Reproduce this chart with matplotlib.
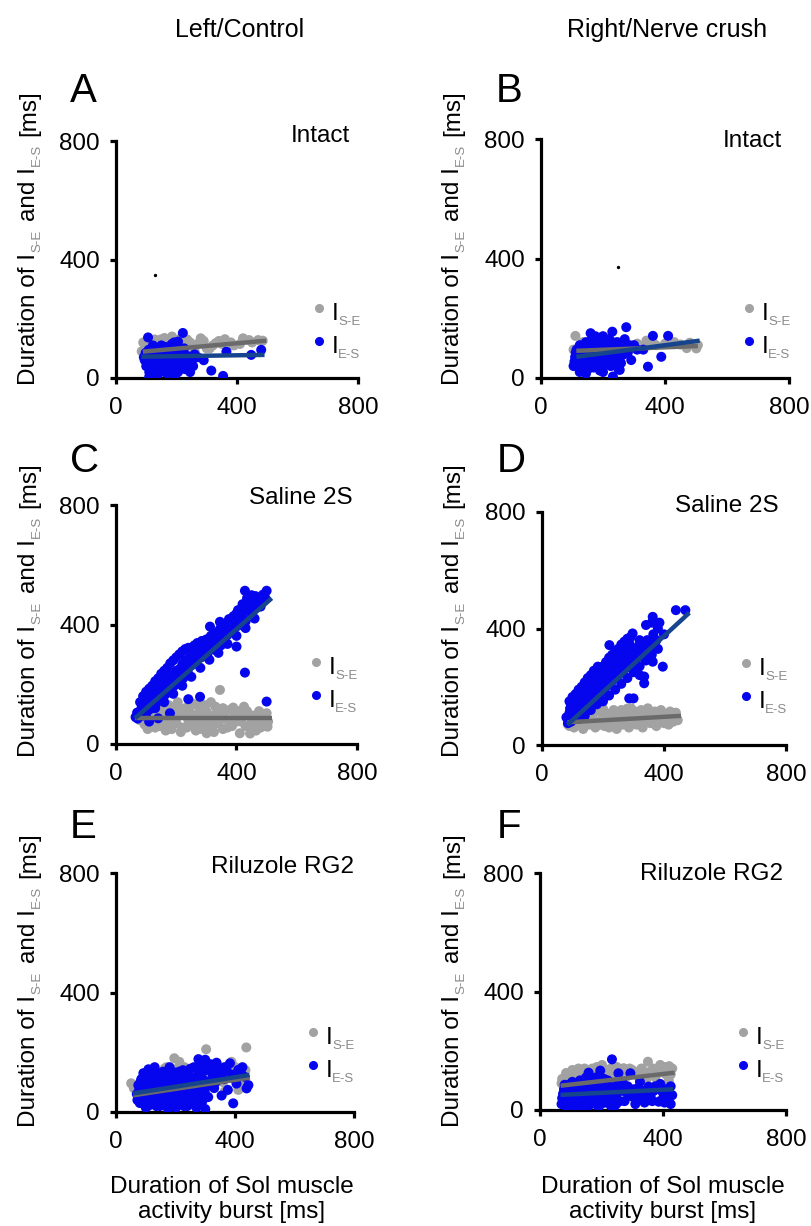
import numpy as np
import matplotlib
matplotlib.use("Agg")
import matplotlib.pyplot as plt
from matplotlib.transforms import IdentityTransform

plt.rcParams['font.family'] = ['Liberation Sans', 'DejaVu Sans']

W, H, DPI = 812, 1226, 100

# --- data: (Sol burst duration, interval duration) in ms ---
a_se = [(85, 90), (95, 100), (100, 110), (110, 95), (120, 120), (125, 105), (135, 115), (140, 125),
        (150, 100), (160, 135), (165, 110), (175, 120), (185, 140), (190, 105), (200, 128), (210, 115),
        (220, 95), (235, 130), (245, 120), (260, 105), (280, 134), (300, 100), (330, 118), (360, 131),
        (390, 110), (420, 134), (450, 120), (470, 128), (485, 126), (100, 80), (115, 75), (130, 85),
        (145, 95), (160, 70), (180, 88), (200, 78), (230, 110), (260, 90), (310, 100), (350, 115),
        (90, 120), (105, 125), (118, 100), (128, 130), (138, 105), (148, 130), (158, 100), (168, 125),
        (178, 110), (195, 120), (215, 135), (225, 120), (240, 110), (270, 115), (290, 125), (320, 110),
        (340, 125), (380, 120), (410, 115), (440, 128)]
a_es = [(95, 60), (100, 40), (105, 75), (110, 20), (115, 50), (120, 85), (125, 30), (130, 65),
        (135, 10), (140, 45), (145, 80), (150, 25), (155, 55), (160, 70), (170, 15), (175, 40),
        (180, 90), (190, 30), (200, 60), (205, 20), (210, 75), (220, 45), (225, 100), (240, 38),
        (250, 55), (260, 80), (270, 70), (290, 60), (315, 25), (354, 7), (365, 89), (447, 78),
        (480, 95), (106, 137), (221, 152), (205, 123), (130, 100), (150, 110), (165, 95), (185, 115),
        (110, 5), (140, 15), (170, 50), (195, 8), (230, 65), (120, 95), (160, 105),
        (92, 70), (98, 85), (103, 55), (108, 95), (112, 35), (118, 65), (122, 110), (128, 45),
        (132, 80), (138, 25), (142, 100), (148, 60), (152, 35), (158, 90), (162, 20), (168, 75),
        (172, 105), (178, 55), (182, 30), (188, 80), (192, 120), (198, 45), (202, 95), (208, 35),
        (212, 60), (218, 85), (228, 30), (235, 75), (245, 20), (255, 40)]

b_se = [(111, 141), (120, 100), (130, 95), (140, 110), (150, 120), (160, 90), (170, 105), (180, 115),
        (190, 95), (200, 125), (215, 100), (230, 110), (250, 120), (270, 105), (290, 100), (310, 115),
        (340, 125), (370, 110), (400, 115), (430, 120), (480, 118), (501, 99), (506, 110), (150, 80),
        (200, 85), (250, 95), (105, 95), (135, 120), (165, 125), (195, 110), (225, 125), (260, 115),
        (320, 105), (360, 120), (450, 112), (470, 100)]
b_es = [(105, 40), (110, 70), (115, 95), (120, 55), (125, 110), (130, 30), (135, 85), (140, 65),
        (145, 120), (150, 45), (155, 100), (160, 75), (165, 130), (170, 35), (175, 90), (180, 60),
        (185, 115), (190, 25), (195, 80), (200, 140), (205, 50), (210, 105), (215, 70), (220, 130),
        (225, 40), (230, 155), (235, 90), (240, 60), (245, 120), (250, 30), (254, 27), (260, 75),
        (265, 100), (275, 170), (280, 85), (291, 60), (300, 110), (310, 95), (345, 38), (361, 141),
        (388, 71), (410, 141), (125, 20), (145, 15), (175, 140), (200, 20), (232, 5), (270, 130),
        (330, 95), (160, 150),
        (108, 55), (112, 85), (118, 40), (122, 75), (128, 100), (132, 60), (138, 45), (142, 95),
        (148, 80), (152, 30), (158, 110), (162, 55), (168, 95), (172, 125), (178, 75), (182, 40),
        (188, 100), (192, 135), (198, 65), (202, 110), (208, 85), (212, 45), (218, 95), (222, 60),
        (228, 120), (238, 75), (248, 105), (258, 50), (268, 80), (285, 110)]

c_se = [(80, 80), (95, 65), (110, 95), (120, 70), (130, 55), (140, 90), (150, 75), (160, 100),
        (170, 60), (180, 85), (190, 110), (200, 70), (210, 95), (220, 55), (230, 120), (240, 80),
        (250, 100), (260, 60), (270, 130), (280, 90), (290, 75), (300, 110), (301, 36), (310, 60),
        (320, 95), (330, 125), (340, 70), (345, 181), (350, 100), (360, 85), (370, 55), (380, 115),
        (389, 122), (400, 75), (411, 36), (420, 90), (430, 60), (440, 100), (450, 80), (460, 70),
        (470, 95), (480, 55), (490, 85), (500, 103), (503, 58), (505, 75), (115, 110), (135, 120),
        (175, 130), (205, 140), (225, 100), (255, 135), (285, 50), (315, 140), (365, 110), (395, 100),
        (435, 110), (465, 45), (265, 45), (185, 50),
        (85, 95), (100, 70), (105, 50), (125, 85), (145, 60), (155, 115), (165, 45), (195, 85),
        (215, 115), (235, 55), (245, 125), (255, 75), (275, 105), (295, 130), (305, 85), (325, 65),
        (335, 100), (355, 120), (375, 80), (385, 60), (405, 110), (415, 75), (425, 125), (445, 55),
        (455, 95), (475, 110), (485, 75), (495, 60), (355, 50), (275, 70), (235, 95), (195, 120),
        (325, 40), (445, 35), (215, 40)]
c_es = [(65, 90), (75, 95), (80, 110), (90, 100), (95, 130), (100, 120), (105, 150), (110, 115),
        (115, 140), (120, 160), (125, 130), (130, 175), (135, 145), (140, 180), (145, 165), (150, 200),
        (155, 170), (160, 215), (165, 185), (170, 190), (175, 220), (180, 200), (185, 230), (190, 210),
        (200, 245), (205, 220), (210, 250), (215, 235), (220, 265), (225, 240), (230, 280), (240, 260),
        (245, 290), (250, 275), (255, 300), (260, 285), (265, 310), (270, 295), (275, 300), (280, 315),
        (285, 300), (290, 320), (295, 310), (300, 325), (310, 320), (312, 393), (320, 340), (330, 330),
        (340, 355), (345, 409), (350, 345), (360, 370), (370, 365), (380, 390), (390, 375), (400, 326),
        (400, 437), (410, 400), (420, 430), (428, 513), (428, 239), (430, 410), (440, 450), (450, 440),
        (460, 470), (467, 478), (480, 480), (500, 513), (500, 142), (179, 103), (240, 150), (279, 158),
        (140, 86), (110, 75), (480, 460), (420, 460),
        (70, 105), (72, 85), (85, 120), (88, 95), (92, 135), (98, 105), (102, 140), (108, 130),
        (112, 150), (118, 120), (122, 145), (128, 160), (133, 135), (138, 170), (143, 150), (148, 185),
        (152, 155), (158, 190), (163, 165), (168, 200), (173, 175), (178, 205), (182, 190), (188, 220),
        (193, 195), (198, 230), (203, 205), (208, 235), (212, 225), (218, 250), (223, 220), (228, 255),
        (233, 265), (238, 245), (242, 275), (248, 285), (253, 265), (258, 295), (263, 300), (268, 280),
        (272, 310), (278, 305), (283, 290), (288, 310), (298, 315), (303, 300), (308, 335), (318, 330),
        (323, 350), (328, 315), (338, 345), (343, 370), (348, 330), (358, 385), (363, 360), (368, 380),
        (378, 400), (383, 380), (388, 410), (398, 420), (403, 395), (408, 430), (418, 440), (423, 420),
        (428, 455), (438, 470), (443, 445), (448, 490), (458, 460), (463, 495), (470, 485), (488, 500),
        (495, 490),
        (80, 140), (90, 160), (95, 150), (100, 175), (110, 185), (120, 195), (130, 210), (140, 220),
        (150, 235), (160, 245), (170, 255), (180, 270), (190, 280), (200, 290), (210, 300), (220, 310),
        (230, 318), (240, 322), (250, 318), (260, 330), (270, 338), (285, 345), (300, 350), (315, 362),
        (330, 372), (345, 385), (360, 400), (375, 418), (390, 428), (405, 448), (420, 468), (435, 488),
        (450, 498), (100, 100), (130, 120), (160, 140), (190, 168), (220, 195), (250, 225), (280, 255),
        (310, 282), (340, 305), (370, 335), (400, 362), (430, 388), (460, 420)]

d_se = [(85, 70), (95, 85), (105, 60), (115, 95), (125, 75), (135, 55), (145, 90), (155, 70),
        (165, 100), (175, 60), (185, 80), (195, 110), (205, 65), (215, 90), (225, 75), (235, 120),
        (245, 55), (255, 95), (265, 70), (275, 110), (285, 60), (292, 126), (300, 85), (310, 70),
        (320, 100), (330, 60), (340, 90), (347, 126), (355, 75), (365, 95), (375, 65), (385, 105),
        (395, 80), (405, 90), (415, 70), (425, 95), (439, 111), (445, 85), (200, 125), (160, 115),
        (120, 110),
        (90, 65), (100, 95), (110, 75), (130, 90), (140, 70), (150, 105), (170, 85), (180, 120),
        (190, 70), (210, 110), (220, 60), (230, 95), (240, 115), (250, 75), (260, 120), (270, 85),
        (280, 125), (295, 100), (305, 115), (315, 80), (325, 120), (335, 100), (350, 110), (360, 80),
        (370, 115), (380, 90), (390, 120), (400, 75), (410, 100), (420, 115), (430, 80), (440, 95)]
d_es = [(80, 95), (85, 75), (90, 110), (95, 80), (100, 120), (105, 95), (110, 130), (115, 100),
        (120, 115), (125, 140), (130, 105), (135, 150), (140, 125), (145, 160), (150, 135), (155, 170),
        (160, 145), (165, 180), (170, 150), (175, 190), (180, 165), (183, 269), (185, 200), (190, 175),
        (195, 215), (200, 185), (205, 225), (210, 200), (215, 240), (220, 210), (221, 343), (225, 255),
        (230, 220), (235, 260), (240, 230), (245, 275), (250, 240), (254, 292), (260, 280), (265, 250),
        (270, 300), (275, 265), (280, 310), (286, 160), (290, 280), (297, 383), (300, 160), (305, 300),
        (310, 330), (320, 360), (320, 240), (330, 320), (335, 235), (335, 212), (341, 412), (341, 338),
        (350, 300), (363, 440), (363, 286), (370, 350), (380, 400), (396, 269), (439, 463), (470, 463),
        (95, 140), (110, 150),
        (88, 90), (92, 125), (98, 100), (102, 135), (108, 115), (112, 145), (118, 130), (122, 155),
        (128, 120), (132, 165), (138, 140), (142, 175), (148, 150), (152, 185), (158, 160), (162, 200),
        (168, 175), (172, 210), (178, 185), (182, 220), (188, 195), (192, 235), (198, 205), (202, 245),
        (208, 215), (212, 260), (218, 230), (222, 270), (228, 240), (232, 285), (238, 250), (242, 300),
        (248, 265), (252, 255), (258, 300), (262, 270), (268, 320), (272, 285), (278, 330), (282, 290),
        (288, 345), (292, 300), (298, 320), (302, 280), (312, 300), (318, 340), (328, 350), (338, 320),
        (345, 360), (355, 330), (365, 380), (375, 360), (385, 420), (400, 380), (360, 420),
        (90, 150), (100, 165), (110, 175), (120, 190), (130, 200), (140, 215), (150, 230), (160, 240),
        (170, 255), (180, 240), (190, 260), (200, 270), (210, 285), (220, 300), (230, 310), (240, 320),
        (250, 330), (260, 345), (270, 355), (280, 365), (290, 370), (120, 90), (140, 100), (160, 120),
        (180, 140), (200, 150), (220, 170), (240, 190), (260, 210), (280, 230), (300, 250), (320, 270),
        (340, 290), (360, 310), (380, 330)]

e_se = [(51, 96), (80, 70), (95, 110), (110, 60), (125, 90), (140, 120), (155, 80), (164, 146),
        (175, 100), (196, 180), (213, 168), (225, 110), (240, 90), (255, 130), (270, 100), (285, 140),
        (303, 210), (320, 130), (335, 110), (350, 150), (365, 68), (388, 168), (400, 120), (411, 74),
        (425, 100), (438, 216), (200, 60), (260, 70), (130, 40), (300, 60),
        (60, 80), (90, 100), (120, 125), (150, 110), (170, 150), (185, 130), (205, 145), (230, 150),
        (250, 100), (280, 120), (295, 160), (315, 110), (330, 140), (360, 100), (380, 130), (400, 150),
        (420, 90), (435, 140)]
e_es = [(70, 60), (75, 90), (80, 30), (85, 110), (90, 45), (95, 75), (100, 15), (105, 125),
        (109, 143), (110, 55), (115, 95), (120, 30), (125, 70), (130, 110), (135, 20), (140, 85),
        (145, 50), (150, 130), (155, 35), (160, 100), (165, 65), (170, 120), (175, 10), (180, 80),
        (185, 45), (190, 135), (195, 25), (200, 95), (205, 60), (210, 115), (215, 30), (220, 80),
        (225, 140), (230, 50), (235, 100), (240, 20), (245, 125), (250, 70), (255, 40), (260, 110),
        (265, 90), (270, 15), (277, 177), (280, 60), (285, 130), (290, 35), (300, 175), (305, 100),
        (310, 50), (320, 140), (330, 80), (338, 165), (345, 120), (355, 55), (365, 150), (376, 74),
        (383, 163), (394, 29), (400, 110), (411, 141), (420, 130), (432, 118), (439, 79), (300, 10),
        (250, 145), (180, 150), (130, 150), (100, 120),
        (72, 40), (78, 75), (82, 100), (88, 60), (92, 130), (98, 35), (102, 85), (108, 20),
        (112, 110), (118, 70), (122, 45), (128, 90), (132, 130), (138, 55), (142, 105), (148, 20),
        (152, 75), (158, 135), (162, 45), (168, 90), (172, 25), (178, 110), (182, 60), (188, 85),
        (192, 40), (198, 120), (202, 15), (208, 80), (212, 135), (218, 50), (222, 100), (228, 20),
        (232, 125), (238, 70), (242, 95), (248, 35), (252, 115), (258, 60), (262, 150), (268, 100),
        (272, 45), (278, 130), (282, 85), (288, 155), (292, 110), (298, 70), (302, 140), (312, 90),
        (318, 160), (325, 120), (335, 100), (342, 145), (352, 130), (362, 110), (372, 140), (390, 125),
        (405, 95), (425, 150), (445, 90)]

f_se = [(70, 90), (80, 110), (90, 75), (100, 120), (110, 95), (120, 130), (130, 135), (140, 100),
        (150, 125), (160, 115), (170, 140), (180, 105), (190, 130), (202, 152), (215, 120), (230, 140),
        (245, 110), (255, 130), (272, 141), (285, 115), (300, 135), (315, 120), (330, 140), (351, 163),
        (360, 130), (375, 110), (391, 152), (400, 135), (410, 120), (415, 124), (419, 99), (420, 148),
        (430, 140), (345, 100),
        (72, 105), (85, 125), (95, 100), (105, 135), (115, 115), (125, 140), (135, 120), (145, 140),
        (155, 105), (165, 130), (175, 120), (185, 145), (195, 115), (208, 135), (222, 125), (238, 130),
        (250, 145), (262, 120), (278, 130), (292, 140), (308, 128), (322, 110), (338, 130), (368, 140),
        (385, 125), (405, 145), (425, 120)]
f_es = [(70, 20), (75, 55), (80, 85), (85, 35), (90, 10), (95, 65), (100, 45), (105, 95),
        (110, 25), (115, 70), (120, 5), (125, 50), (130, 100), (135, 30), (140, 75), (145, 15),
        (150, 110), (155, 45), (158, 126), (160, 85), (165, 20), (170, 60), (175, 100), (180, 35),
        (185, 70), (190, 10), (196, 133), (200, 50), (205, 90), (210, 25), (215, 65), (220, 100),
        (225, 40), (230, 15), (234, 171), (240, 6), (245, 80), (250, 55), (255, 124), (260, 30),
        (270, 90), (280, 60), (294, 124), (300, 45), (310, 20), (320, 75), (330, 50), (340, 25),
        (353, 79), (360, 45), (370, 65), (386, 28), (391, 88), (400, 40), (410, 70), (419, 60),
        (425, 80), (430, 50),
        (72, 40), (78, 70), (82, 15), (88, 55), (92, 85), (98, 30), (102, 70), (108, 50),
        (112, 10), (118, 90), (122, 40), (128, 75), (132, 20), (138, 60), (142, 95), (148, 35),
        (152, 70), (158, 15), (162, 50), (168, 90), (172, 30), (178, 65), (182, 110), (188, 45),
        (192, 80), (198, 20), (202, 70), (208, 105), (212, 45), (218, 30), (222, 80), (228, 60),
        (238, 45), (248, 20), (258, 95), (265, 65), (275, 30), (285, 80), (290, 50), (305, 70),
        (315, 40), (325, 95), (335, 65), (345, 45), (365, 30), (375, 80), (395, 65), (405, 25),
        (415, 45), (425, 20)]

# regression lines (x ends, y ends) as drawn in the figure
a_se_fit, a_es_fit = ([89, 497], [89, 126]), ([84, 491], [72, 78])
b_se_fit, b_es_fit = ([114, 506], [91, 107]), ([114, 512], [71, 125])
c_se_fit, c_es_fit = ([63, 519], [86, 86]), ([63, 517], [86, 488])
d_se_fit, d_es_fit = ([84, 456], [78, 100]), ([83, 483], [69, 454])
e_se_fit, e_es_fit = ([58, 450], [56, 115]), ([57, 449], [62, 124])
f_se_fit, f_es_fit = ([67, 438], [82, 126]), ([67, 433], [51, 70])

# stray specks in the intact panels
stray_a = [(129, 348)]
stray_b = [(248, 372)]

ticks = [0, 400, 800]
titles = ['Intact', 'Intact', 'Saline 2S', 'Saline 2S', 'Riluzole RG2', 'Riluzole RG2']
letters = ['A', 'B', 'C', 'D', 'E', 'F']

PT_GRAY = '#a2a2a2'
PT_BLUE = '#0606ee'
LN_GRAY = '#6a6a6a'
LN_BLUE = '#16458e'
SUB_GRAY = '#8a8a8a'
FS = 17.5

# layout (pixels): axes box (x0, ytop, x1, ybot), letter, title (right, baseline),
# legend dot, ylabel (baseline x, start y)
layout = [
    dict(box=(116, 141, 358, 378), letter=(70, 102), title=(350, 142), leg=(319, 308), ylab=(35, 385)),
    dict(box=(541, 139, 789, 378), letter=(496, 102), title=(782, 147), leg=(749, 308), ylab=(459, 385)),
    dict(box=(116, 505, 357, 744), letter=(70, 472), title=(353, 504), leg=(316, 662), ylab=(35, 757)),
    dict(box=(542, 512, 786, 745), letter=(497, 472), title=(779, 512), leg=(746, 663), ylab=(459, 757)),
    dict(box=(116, 873, 354, 1112), letter=(70, 838), title=(354, 873), leg=(313, 1032), ylab=(35, 1127)),
    dict(box=(540, 873, 786, 1110), letter=(497, 838), title=(783, 880), leg=(743, 1032), ylab=(459, 1127)),
]

series = [(a_se, a_es, a_se_fit, a_es_fit, stray_a),
          (b_se, b_es, b_se_fit, b_es_fit, stray_b),
          (c_se, c_es, c_se_fit, c_es_fit, []),
          (d_se, d_es, d_se_fit, d_es_fit, []),
          (e_se, e_es, e_se_fit, e_es_fit, []),
          (f_se, f_es, f_se_fit, f_es_fit, [])]

fig = plt.figure(figsize=(W / DPI, H / DPI), dpi=DPI)
fig.patch.set_facecolor('white')
renderer = fig.canvas.get_renderer()
ident = IdentityTransform()


def ptext(x, y, s, **kw):
    # text at pixel position measured from the top-left corner
    return fig.text(x, H - y, s, transform=ident, **kw)


def vlabel(xb, ystart):
    # rotated y label with grey subscripts, built piece by piece
    pieces = [("Duration of I", FS, 'black', 0, 0), ("S-E", 9.5, SUB_GRAY, 5, 1.5),
              ("and I", FS, 'black', 0, 8), ("E-S", 9.5, SUB_GRAY, 5, 1.5),
              ("[ms]", FS, 'black', 0, 8)]
    y = ystart
    for s, fs, col, shift, gap in pieces:
        y -= gap
        t = ptext(xb + shift, y, s, fontsize=fs, color=col, rotation=90,
                  rotation_mode='anchor', ha='left', va='baseline')
        y -= t.get_window_extent(renderer).height


def legend_entry(x, y, col, sub):
    fig.add_artist(plt.Line2D([x], [H - y], transform=ident, marker='o', markersize=5.5,
                              color=col, linestyle='none'))
    ptext(x + 13, y + 12, "I", fontsize=FS, ha='left', va='baseline')
    ptext(x + 19, y + 17, sub, fontsize=9.5, color=SUB_GRAY, ha='left', va='baseline')


for i, (se, es, se_fit, es_fit, stray) in enumerate(series):
    lay = layout[i]
    x0, yt, x1, yb = lay['box']
    ax = fig.add_axes([x0 / W, (H - yb) / H, (x1 - x0) / W, (yb - yt) / H])
    se = np.array(se)
    es = np.array(es)
    ax.scatter(se[:, 0], se[:, 1], s=52, color=PT_GRAY, edgecolors='none', zorder=2)
    ax.scatter(es[:, 0], es[:, 1], s=52, color=PT_BLUE, edgecolors='none', zorder=3)
    ax.plot(se_fit[0], se_fit[1], color=LN_GRAY, lw=3.2, solid_capstyle='butt', zorder=4)
    ax.plot(es_fit[0], es_fit[1], color=LN_BLUE, lw=3.2, solid_capstyle='butt', zorder=5)
    if stray:
        st = np.array(stray)
        ax.scatter(st[:, 0], st[:, 1], s=2, color='black', zorder=6)

    ax.set_xlim(0, 800)
    ax.set_ylim(0, 800)
    ax.set_xticks(ticks)
    ax.set_yticks(ticks)
    for side in ['top', 'right']:
        ax.spines[side].set_visible(False)
    for side in ['left', 'bottom']:
        ax.spines[side].set_linewidth(2.3)
    ax.tick_params(direction='out', length=4.5, width=2.3, labelsize=FS, colors='black')
    ax.tick_params(axis='x', pad=9)
    ax.tick_params(axis='y', pad=7)
    ax.set_facecolor('none')

    ptext(lay['letter'][0], lay['letter'][1], letters[i], fontsize=29, ha='left', va='baseline')
    ptext(lay['title'][0], lay['title'][1], titles[i], fontsize=FS, ha='right', va='baseline')
    lx, ly = lay['leg']
    legend_entry(lx, ly, PT_GRAY, "S-E")
    legend_entry(lx, ly + 33, PT_BLUE, "E-S")
    vlabel(*lay['ylab'])

# column headers
ptext(240, 37, "Left/Control", fontsize=18, ha='center', va='baseline')
ptext(667, 37, "Right/Nerve crush", fontsize=18, ha='center', va='baseline')

# x labels under bottom row
for cx in [232, 663]:
    ptext(cx, 1193, "Duration of Sol muscle", fontsize=FS, ha='center', va='baseline')
    ptext(cx, 1218, "activity burst [ms]", fontsize=FS, ha='center', va='baseline')

fig.savefig('out.png', dpi=DPI)
